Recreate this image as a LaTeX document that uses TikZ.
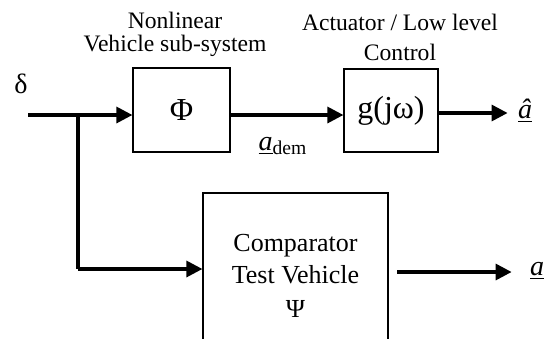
\documentclass[tikz,border=0pt]{standalone}
\usepackage{fontspec}
\setmainfont{Liberation Serif}
\usetikzlibrary{arrows.meta,positioning}

\begin{document}
\begin{tikzpicture}[x=0.5pt,y=-0.5pt]

\tikzset{block/.style={draw, line width=0.6pt, inner sep=0pt},
         signal/.style={line width=1.6pt, -{Triangle[length=8pt,width=8pt]}},
         caption/.style={align=center, font=\fontsize{11.8}{11.5}\selectfont},
         sym/.style={inner sep=0pt, font=\fontsize{14}{16}\selectfont}}

\clip (0,0) rectangle (550,338);

% blocks
\node[block, minimum width=48.5pt, minimum height=42pt,
      font=\fontsize{16}{18}\selectfont] (phi) at (181.5,110) {Φ};
\node[block, minimum width=47pt, minimum height=41.5pt,
      font=\fontsize{16}{18}\selectfont] (gjw) at (391,110.5) {g(jω)};
\node[block, minimum width=92.5pt, minimum height=83pt, align=center,
      font=\fontsize{13}{16}\selectfont] (cmp) at (295.5,276)
      {Comparator\\Test Vehicle\\[1pt]Ψ};

% captions
\node[caption] (phicap) at (175,34) {Nonlinear\\Vehicle sub-system};
\node[caption, font=\fontsize{11.8}{15}\selectfont] (gcap) at (400,37)
      {Actuator / Low level\\Control};

% signals
\node[sym] (delta) at (21,84) {δ};
\node[sym] (adem) at (283,146) {\underline{\textit{a}}\textsubscript{dem}};
\node[sym] (ahat) at (525,111) {\underline{\textit{\^a}}};
\node[sym] (aout) at (537,271) {\underline{\textit{a}}};

\coordinate (in) at (28,115);
\coordinate (br) at (78,115);
\coordinate (low) at (78,269);
\coordinate (cout) at (388,272);

\draw[signal] (in) -- (in -| phi.west);
\draw[line width=1.6pt] (br) -- (low);
\draw[signal] (low) -- (low -| cmp.west);
\draw[signal] (phi.east |- in) -- (gjw.west |- in);
\draw[signal, shorten >=5pt] (gjw.east |- 0,113) -- (ahat.west |- 0,113);
\draw[signal, shorten <=4.5pt, shorten >=9pt] (cout) -- (aout.west |- cout);

\end{tikzpicture}
\end{document}
